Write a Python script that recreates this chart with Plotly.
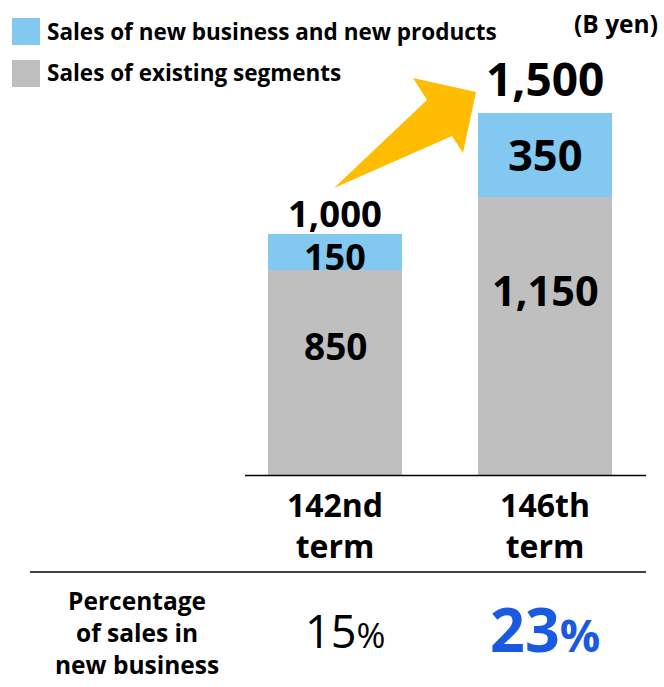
import plotly.graph_objects as go

# ---- data ----
terms = ["142nd<br>term", "146th<br>term"]
existing = [850, 1150]
new_biz = [150, 350]
totals = [1000, 1500]
share_new = [15, 23]
series_names = ["Sales of new business and new products", "Sales of existing segments"]
unit_label = "(B yen)"
row_label_lines = ["Percentage", "of sales in", "new business"]

# ---- style ----
W, H = 664, 687
FONT = "Open Sans"
BLUE = "#82C8F0"
GREY = "#BFBFBF"
ARROW = "#FFBC00"
PCT_BLUE = "#1A5AE0"


def fx(p):
    return p / W


def fy(p):
    return 1 - p / H


Y_MAX = 1800
base_px = 475.5
top_px = base_px - 0.242 * Y_MAX

fig = go.Figure()
fig.add_trace(go.Bar(x=terms, y=existing, name=series_names[1], marker=dict(color=GREY, line=dict(width=0)),
                     width=0.638, hoverinfo="skip"))
fig.add_trace(go.Bar(x=terms, y=new_biz, name=series_names[0], marker=dict(color=BLUE, line=dict(width=0)),
                     width=0.638, hoverinfo="skip"))

ann = []
# labels inside existing segments (placed in upper part of the segment)
ex_frac = [0.63, 0.667]
for i, v in enumerate(existing):
    ann.append(dict(x=i, y=v * ex_frac[i], xref="x", yref="y", text=f"<b>{v:,}</b>", showarrow=False,
                    font=dict(family=FONT, size=[37, 41.5][i], color="black"), xanchor="center", yanchor="middle"))
# labels in new-business segments (centered)
for i, v in enumerate(new_biz):
    ann.append(dict(x=i, y=existing[i] + v / 2, xref="x", yref="y", text=f"<b>{v:,}</b>", showarrow=False,
                    font=dict(family=FONT, size=[36, 43.5][i], color="black"), xanchor="center", yanchor="middle",
                    yshift=[-5, 0][i]))
# totals
for i, v in enumerate(totals):
    ann.append(dict(x=i, y=v, xref="x", yref="y", text=f"<b>{v:,}</b>", showarrow=False,
                    font=dict(family=FONT, size=[36.5, 46][i], color="black"), xanchor="center", yanchor="middle",
                    yshift=[21, 35][i]))
# percentage row
pct_x = [345, 545]
ann.append(dict(x=fx(pct_x[0]), y=fy(651), xref="paper", yref="paper",
                text=f"{share_new[0]}<span style='font-size:35px'>%</span>", showarrow=False,
                font=dict(family=FONT, size=45, color="black"), xanchor="center", yanchor="bottom", yshift=-12))
ann.append(dict(x=fx(pct_x[1]), y=fy(656), xref="paper", yref="paper",
                text=f"<b>{share_new[1]}<span style='font-size:45px'>%</span></b>", showarrow=False,
                font=dict(family=FONT, size=61, color=PCT_BLUE), xanchor="center", yanchor="bottom", yshift=-16))
ann.append(dict(x=fx(137), y=fy(632), xref="paper", yref="paper",
                text="<b>" + "<br>".join(row_label_lines) + "</b>",
                showarrow=False, font=dict(family=FONT, size=24.5, color="black"),
                xanchor="center", yanchor="middle", align="center"))
# legend texts
ann.append(dict(x=fx(45), y=fy(32), xref="paper", yref="paper", text=f"<b>{series_names[0]}</b>", showarrow=False,
                font=dict(family=FONT, size=22.5, color="black"), xanchor="left", yanchor="middle"))
ann.append(dict(x=fx(45), y=fy(73), xref="paper", yref="paper", text=f"<b>{series_names[1]}</b>", showarrow=False,
                font=dict(family=FONT, size=22.5, color="black"), xanchor="left", yanchor="middle"))
ann.append(dict(x=fx(660), y=fy(23), xref="paper", yref="paper", text=f"<b>{unit_label}</b>", showarrow=False,
                font=dict(family=FONT, size=24.5, color="black"), xanchor="right", yanchor="middle"))

shapes = [
    dict(type="rect", xref="paper", yref="paper", x0=fx(12), x1=fx(40), y0=fy(45), y1=fy(18),
         fillcolor=BLUE, line=dict(width=0)),
    dict(type="rect", xref="paper", yref="paper", x0=fx(12), x1=fx(40), y0=fy(87), y1=fy(60),
         fillcolor=GREY, line=dict(width=0)),
    dict(type="line", xref="paper", yref="paper", x0=fx(245), x1=fx(646), y0=fy(base_px), y1=fy(base_px),
         line=dict(color="black", width=1.5)),
    dict(type="line", xref="paper", yref="paper", x0=fx(30), x1=fx(646), y0=fy(572), y1=fy(572),
         line=dict(color="black", width=1.5)),
]
arrow_pts = [(334, 188), (427, 100), (413, 78), (476, 92), (463, 153), (452, 136)]
path = "M " + " L ".join(f"{fx(x):.5f},{fy(y):.5f}" for x, y in arrow_pts) + " Z"
shapes.append(dict(type="path", xref="paper", yref="paper", path=path, fillcolor=ARROW, line=dict(width=0)))

fig.update_layout(
    width=W, height=H, margin=dict(l=0, r=0, t=0, b=0),
    barmode="stack", showlegend=False,
    plot_bgcolor="white", paper_bgcolor="white",
    annotations=ann, shapes=shapes,
    xaxis=dict(domain=[fx(230), fx(650)], range=[-0.5, 1.5], showgrid=False, zeroline=False, showline=False,
               ticks="", tickfont=dict(family=FONT, size=32, color="black", weight="bold"),
               ticklabelstandoff=8),
    yaxis=dict(domain=[fy(base_px), fy(top_px)], range=[0, Y_MAX], visible=False, showgrid=False),
)
fig.write_html("out.html")
